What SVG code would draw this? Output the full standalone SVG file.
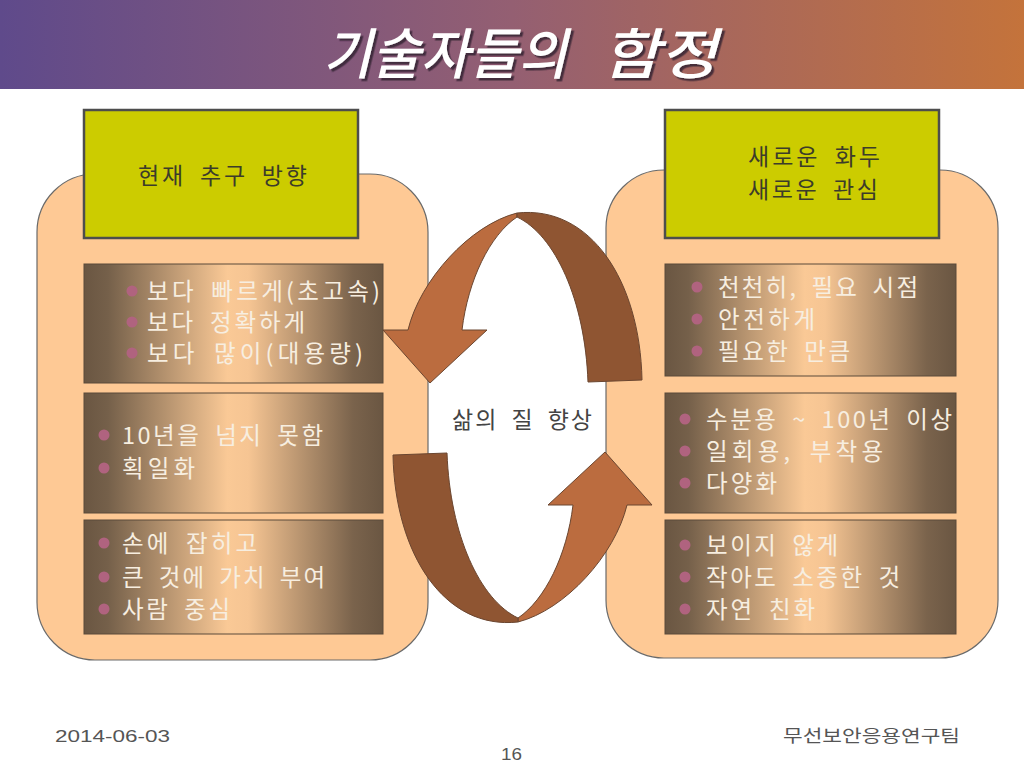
<svg xmlns="http://www.w3.org/2000/svg" width="1024" height="768" viewBox="0 0 1024 768">
<defs>
<linearGradient id="bar" x1="0" y1="0" x2="1" y2="0">
<stop offset="0" stop-color="#5f4a8b"/>
<stop offset="0.5" stop-color="#945f72"/>
<stop offset="1" stop-color="#c4733b"/>
</linearGradient>
<linearGradient id="brown" x1="0" y1="0" x2="1" y2="0">
<stop offset="0" stop-color="#6a5642"/>
<stop offset="0.08" stop-color="#75604a"/>
<stop offset="0.48" stop-color="#fac996"/>
<stop offset="0.55" stop-color="#f6c593"/>
<stop offset="0.9" stop-color="#7a634c"/>
<stop offset="1" stop-color="#6a5642"/>
</linearGradient>
<filter id="shadow" x="-5%" y="-20%" width="115%" height="150%">
<feDropShadow dx="2.5" dy="2.5" stdDeviation="0.4" flood-color="#2e2430" flood-opacity="0.8"/>
</filter>
<g id="arrow">
<path class="light" d="M517,213 C470,225 420,280 408,330 L383,330 L430,383 L487,330 L462,330 C468,280 490,235 517,217 Z"/>
<path class="dark" d="M517,213 C590,205 640,280 642,380 L588,382 C585,300 555,235 517,217 Z"/>
</g>
</defs>
<style>
.panel{fill:#fec995;stroke:#6a6a6a;stroke-width:1.2}
.ybox{fill:#cccc00;stroke:#4d4d4d;stroke-width:2.5}
.bbox{fill:url(#brown);stroke:#5a4a3a;stroke-width:1}
.light{fill:#bb6c3f;stroke:#6b4630;stroke-width:1}
.dark{fill:#8f5532;stroke:#6b4630;stroke-width:1}
.ytxt{font-family:"Noto Sans CJK KR","Noto Sans",sans-serif;font-size:23px;fill:#3c3c2a;word-spacing:6px}
.btxt{font-family:"Noto Sans CJK KR","Noto Sans",sans-serif;font-size:23.5px;fill:#f7eee0;word-spacing:6px}
.dot{fill:#b0637f}
.ctxt{font-family:"Noto Sans CJK KR","Noto Sans",sans-serif;font-size:23px;fill:#444;word-spacing:6px}
.foot{font-family:"Liberation Sans","Noto Sans CJK KR",sans-serif;font-size:17px;fill:#555}
.ttl{font-family:"Noto Sans CJK KR",sans-serif;font-size:55px;font-weight:500;font-style:italic;fill:#ffffff}
</style>
<rect width="1024" height="768" fill="#ffffff"/>
<g id="title">
<rect x="0" y="0" width="1024" height="89" fill="url(#bar)"/>
<g filter="url(#shadow)">
<text class="ttl" x="323" y="74" textLength="244" lengthAdjust="spacingAndGlyphs">기술자들의</text>
<text class="ttl" x="602" y="74" textLength="115" lengthAdjust="spacingAndGlyphs">함정</text>
</g>
</g>
<g id="left-panel">
<rect class="panel" x="37" y="174" width="391" height="486" rx="58" ry="58"/>
</g>
<g id="right-panel">
<rect class="panel" x="606" y="170" width="392" height="488" rx="58" ry="58"/>
</g>
<g id="left-header">
<rect class="ybox" x="84" y="110" width="274" height="128"/>
<text class="ytxt" x="138" y="184" textLength="169" lengthAdjust="spacing">현재 추구 방향</text>
</g>
<g id="right-header">
<rect class="ybox" x="665" y="110" width="274" height="128"/>
<text class="ytxt" x="748" y="165" textLength="132" lengthAdjust="spacing">새로운 화두</text>
<text class="ytxt" x="748" y="198" textLength="130" lengthAdjust="spacing">새로운 관심</text>
</g>
<g id="left-box-1">
<rect class="bbox" x="84" y="264" width="299" height="119"/>
<circle class="dot" cx="132" cy="291" r="5.5"/>
<circle class="dot" cx="132" cy="322" r="5.5"/>
<circle class="dot" cx="132" cy="353" r="5.5"/>
<text class="btxt" x="147" y="300" textLength="233" lengthAdjust="spacing">보다 빠르게(초고속)</text>
<text class="btxt" x="147" y="331" textLength="158" lengthAdjust="spacing">보다 정확하게</text>
<text class="btxt" x="147" y="362" textLength="216" lengthAdjust="spacing">보다 많이(대용량)</text>
</g>
<g id="left-box-2">
<rect class="bbox" x="84" y="393" width="299" height="120"/>
<circle class="dot" cx="104" cy="435" r="5.5"/>
<circle class="dot" cx="104" cy="468" r="5.5"/>
<text class="btxt" x="122" y="444" textLength="201" lengthAdjust="spacing">10년을 넘지 못함</text>
<text class="btxt" x="122" y="477" textLength="73" lengthAdjust="spacing">획일화</text>
</g>
<g id="left-box-3">
<rect class="bbox" x="84" y="520" width="299" height="114"/>
<circle class="dot" cx="104" cy="543" r="5.5"/>
<circle class="dot" cx="104" cy="577" r="5.5"/>
<circle class="dot" cx="104" cy="609" r="5.5"/>
<text class="btxt" x="122" y="552" textLength="135" lengthAdjust="spacing">손에 잡히고</text>
<text class="btxt" x="122" y="586" textLength="203" lengthAdjust="spacing">큰 것에 가치 부여</text>
<text class="btxt" x="122" y="618" textLength="108" lengthAdjust="spacing">사람 중심</text>
</g>
<g id="right-box-1">
<rect class="bbox" x="665" y="264" width="291" height="112"/>
<circle class="dot" cx="697" cy="287" r="5.5"/>
<circle class="dot" cx="697" cy="319" r="5.5"/>
<circle class="dot" cx="697" cy="351" r="5.5"/>
<text class="btxt" x="718" y="296" textLength="200" lengthAdjust="spacing">천천히, 필요 시점</text>
<text class="btxt" x="718" y="328" textLength="97" lengthAdjust="spacing">안전하게</text>
<text class="btxt" x="718" y="360" textLength="132" lengthAdjust="spacing">필요한 만큼</text>
</g>
<g id="right-box-2">
<rect class="bbox" x="665" y="393" width="291" height="120"/>
<circle class="dot" cx="685" cy="419" r="5.5"/>
<circle class="dot" cx="685" cy="451" r="5.5"/>
<circle class="dot" cx="685" cy="483" r="5.5"/>
<text class="btxt" x="706" y="428" textLength="246" lengthAdjust="spacing">수분용 ~ 100년 이상</text>
<text class="btxt" x="706" y="460" textLength="177" lengthAdjust="spacing">일회용, 부착용</text>
<text class="btxt" x="706" y="492" textLength="71" lengthAdjust="spacing">다양화</text>
</g>
<g id="right-box-3">
<rect class="bbox" x="665" y="520" width="291" height="114"/>
<circle class="dot" cx="685" cy="545" r="5.5"/>
<circle class="dot" cx="685" cy="577" r="5.5"/>
<circle class="dot" cx="685" cy="609" r="5.5"/>
<text class="btxt" x="706" y="554" textLength="132" lengthAdjust="spacing">보이지 않게</text>
<text class="btxt" x="706" y="586" textLength="194" lengthAdjust="spacing">작아도 소중한 것</text>
<text class="btxt" x="706" y="618" textLength="109" lengthAdjust="spacing">자연 친화</text>
</g>
<g id="connectors">
<use href="#arrow"/>
<use href="#arrow" transform="rotate(180 517.5 417.5)"/>
</g>
<g id="center-label">
<text class="ctxt" x="452" y="428" textLength="140" lengthAdjust="spacing">삶의 질 향상</text>
</g>
<g id="footer">
<text class="foot" x="55" y="742" textLength="115" lengthAdjust="spacingAndGlyphs">2014-06-03</text>
<text class="foot" x="501" y="760" textLength="21" lengthAdjust="spacingAndGlyphs">16</text>
<text class="foot" x="783" y="742" font-family="'Noto Sans CJK KR',sans-serif" font-size="19" textLength="177" lengthAdjust="spacingAndGlyphs">무선보안응용연구팀</text>
</g>
</svg>
